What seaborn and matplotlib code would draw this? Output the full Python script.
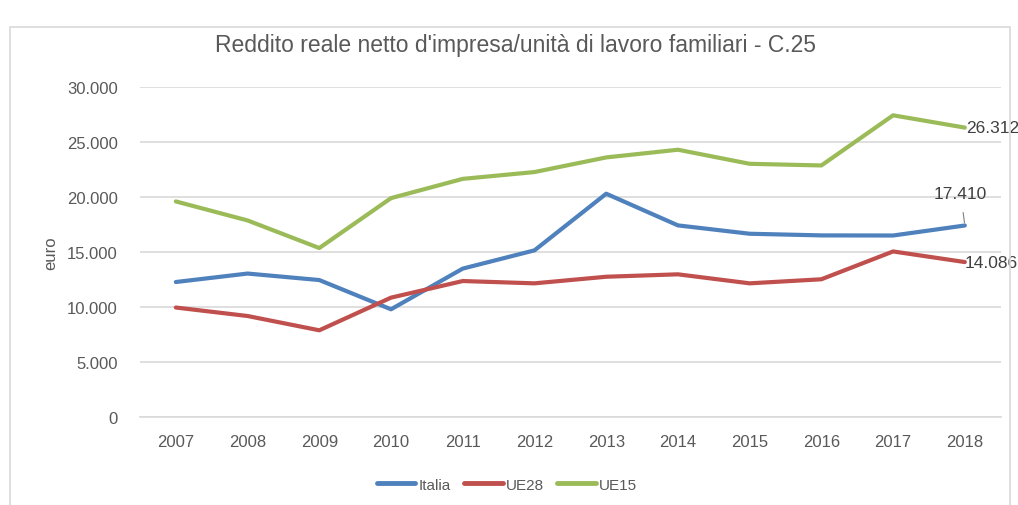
import matplotlib
matplotlib.use("Agg")
import numpy as np
import pandas as pd
import matplotlib.pyplot as plt
import seaborn as sns
from matplotlib.ticker import FuncFormatter
from matplotlib.patches import Rectangle

# ------------------------------------------------------------------------
# Data
# ------------------------------------------------------------------------
years = [2007, 2008, 2009, 2010, 2011, 2012, 2013, 2014, 2015, 2016, 2017, 2018]
italia = [12270, 13040, 12450, 9790, 13490, 15150, 20300, 17420, 16660, 16510, 16500, 17410]
ue28 = [9950, 9180, 7880, 10850, 12360, 12150, 12750, 12970, 12150, 12520, 15050, 14086]
ue15 = [19600, 17870, 15360, 19900, 21650, 22270, 23600, 24300, 23020, 22870, 27430, 26312]
series_names = ["Italia", "UE28", "UE15"]
colors = ["#4F81BD", "#C0504D", "#9BBB59"]

df = pd.DataFrame({
    "anno": years * 3,
    "valore": italia + ue28 + ue15,
    "serie": [s for s in series_names for _ in years],
})

sns.set_theme(style="white")
plt.rcParams['font.family'] = ['Liberation Sans', 'DejaVu Sans']
txt = "#595959"

fig = plt.figure(figsize=(10.18, 5.06), dpi=100)
ax = fig.add_axes([0.1375, 0.174, 0.8455, 0.652])

sns.lineplot(data=df, x="anno", y="valore", hue="serie", hue_order=series_names,
             palette=colors, linewidth=3.0, ax=ax, legend=True)

ax.set_xlim(years[0] - 0.5, years[-1] + 0.5)
ax.set_ylim(0, 30000)
ax.set_xticks(years)
ax.set_yticks(range(0, 30001, 5000))
ax.yaxis.set_major_formatter(FuncFormatter(lambda v, p: f"{int(v):,}".replace(",", ".")))
ax.grid(axis="y", color="#D9D9D9", linewidth=1.2)
ax.set_axisbelow(True)
for side in ["top", "right", "left"]:
    ax.spines[side].set_visible(False)
ax.spines["bottom"].set_color("#D9D9D9")
ax.spines["bottom"].set_linewidth(1.2)
ax.tick_params(axis="both", length=0, labelsize=12, labelcolor=txt)
ax.tick_params(axis="x", pad=12)
ax.tick_params(axis="y", pad=16)
ax.set_xlabel("")
ax.set_ylabel("euro", fontsize=12, color=txt)
ax.yaxis.set_label_coords(-0.095, 0.5)

# Data labels for 2018 values
lab_kw = dict(fontsize=12.5, color="#404040", va="center")
ax.annotate(f"{ue15[-1]:,}".replace(",", "."), (years[-1], ue15[-1]),
            xytext=(1, 0), textcoords="offset points", ha="left", **lab_kw)
ax.annotate(f"{ue28[-1]:,}".replace(",", "."), (years[-1], ue28[-1]),
            xytext=(0, 0), textcoords="offset points", ha="left", **lab_kw)
ax.annotate(f"{italia[-1]:,}".replace(",", "."), (years[-1], italia[-1]),
            xytext=(-3, 23), textcoords="offset points", ha="center",
            arrowprops=dict(arrowstyle="-", color="#7F7F7F", lw=0.8,
                            shrinkA=6, shrinkB=2), **lab_kw)

# Legend at bottom
handles, labels = ax.get_legend_handles_labels()
ax.get_legend().remove()
leg = fig.legend(handles, labels, loc="center", bbox_to_anchor=(0.498, 0.04),
                 ncol=3, frameon=False, fontsize=11, handlelength=2.5,
                 handletextpad=0.2, columnspacing=0.9)
for t in leg.get_texts():
    t.set_color(txt)
for h in leg.legend_handles:
    h.set_linewidth(3.5)

fig.text(0.506, 0.911, "Reddito reale netto d'impresa/unità di lavoro familiari - C.25",
         ha="center", va="center", fontsize=16.5, color=txt)

# Chart border
fig.patches.append(Rectangle((10 / 1018, -0.05), 1000 / 1018, 1.05 - 28 / 506,
                             transform=fig.transFigure, fill=False,
                             edgecolor="#D9D9D9", linewidth=1.2))

fig.savefig("out.png", dpi=100)
plt.close()
